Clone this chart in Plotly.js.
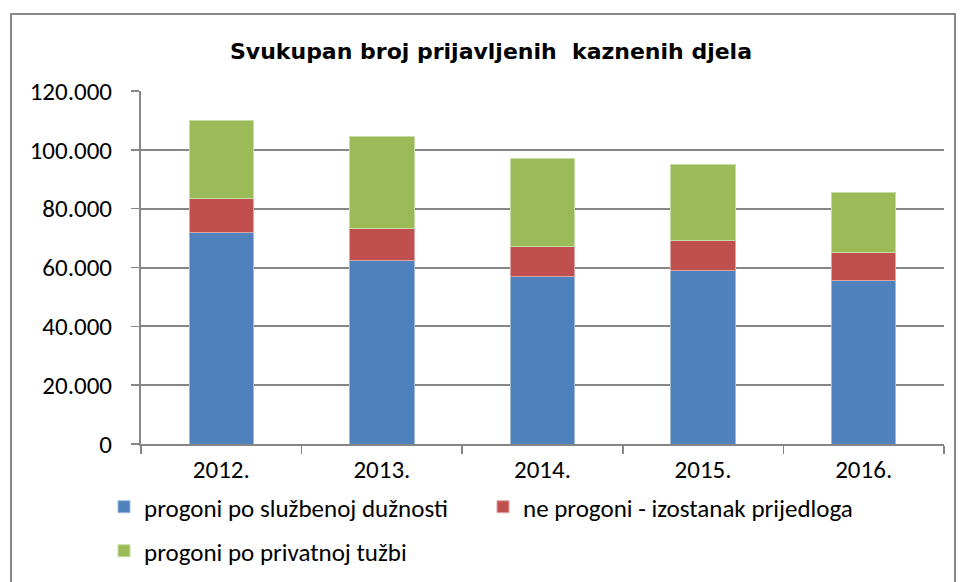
<!DOCTYPE html>
<html>
<head>
<meta charset="utf-8">
<script src="https://cdn.plot.ly/plotly-3.0.1.min.js"></script>
<style>
html,body{margin:0;padding:0;background:#fff;}
#chart{width:961px;height:582px;}
</style>
</head>
<body>
<div id="chart"></div>
<script>
const years = ['2012.', '2013.', '2014.', '2015.', '2016.'];
const sluzbeno = [72000, 62400, 57100, 59100, 55700];
const izostanak = [11500, 10900, 10100, 10200, 9400];
const privatna = [26400, 31200, 29700, 25600, 20300];
const seriesNames = ['progoni po službenoj dužnosti', 'ne progoni - izostanak prijedloga', 'progoni po privatnoj tužbi'];
const yTicks = [0, 20000, 40000, 60000, 80000, 100000, 120000];

const FONT = 'Carlito, Calibri, "Liberation Sans", "Open Sans", sans-serif';
const FS = 25;
const colors = ['#4f81bd', '#c0504d', '#9bbb59'];
const lineCols = ['#9fb9dc', '#dca5a4', '#c8dba6'];

const traces = [sluzbeno, izostanak, privatna].map((vals, i) => ({
  type: 'bar',
  x: years,
  y: vals,
  name: seriesNames[i],
  marker: {color: colors[i], line: {color: lineCols[i], width: 1}},
  legend: i === 2 ? 'legend2' : 'legend',
  hoverinfo: 'x+y+name'
}));

const W = 961, H = 582;
const mL = 141, mR = 17, mT = 91, mB = 138;
const pw = W - mL - mR, ph = H - mT - mB;
const px = v => (v - mL) / pw;
const py = v => (H - mB - v) / ph;

const layout = {
  width: W, height: H,
  margin: {l: mL, r: mR, t: mT, b: mB, pad: 0, autoexpand: false},
  paper_bgcolor: '#ffffff',
  plot_bgcolor: '#ffffff',
  separators: ',.',
  barmode: 'stack',
  bargap: 0.6,
  font: {family: FONT, size: FS, color: '#000'},
  title: {
    text: 'Svukupan broj prijavljenih\u00a0 kaznenih djela',
    font: {family: '"DejaVu Sans", Arial, sans-serif', size: 22, color: '#000', weight: 'bold'},
    x: px(491), xref: 'paper', xanchor: 'center',
    y: 1 - 51 / H, yref: 'container', yanchor: 'middle'
  },
  xaxis: {
    type: 'category',
    showgrid: false,
    showline: true, linecolor: '#868686', linewidth: 2,
    ticks: 'outside', tickson: 'boundaries', ticklen: 8, tickcolor: '#868686', tickwidth: 1.5,
    tickfont: {family: FONT, size: FS, color: '#000'},
    ticklabelstandoff: 2,
    fixedrange: true
  },
  yaxis: {
    range: [0, 120000],
    tickvals: yTicks,
    tickformat: ',d',
    showgrid: true, gridcolor: '#868686', gridwidth: 2,
    showline: true, linecolor: '#868686', linewidth: 2,
    zeroline: false,
    ticks: 'outside', ticklen: 8, tickcolor: '#868686', tickwidth: 1.5,
    tickfont: {family: FONT, size: FS, color: '#000'},
    ticklabelstandoff: 14,
    fixedrange: true
  },
  legend: {
    orientation: 'h',
    x: px(104), xanchor: 'left',
    y: py(507), yanchor: 'middle',
    font: {family: FONT, size: FS, color: '#000'},
    traceorder: 'normal',
    bgcolor: 'rgba(0,0,0,0)',
    itemwidth: 30,
    entrywidth: 334
  },
  legend2: {
    orientation: 'h',
    x: px(104), xanchor: 'left',
    y: py(551), yanchor: 'middle',
    font: {family: FONT, size: FS, color: '#000'},
    traceorder: 'normal',
    bgcolor: 'rgba(0,0,0,0)',
    itemwidth: 30
  },
  shapes: [{
    type: 'rect', xref: 'paper', yref: 'paper',
    x0: px(11), x1: px(955), y0: py(600), y1: py(14),
    line: {color: '#888888', width: 2}, fillcolor: 'rgba(0,0,0,0)', layer: 'below'
  }]
};

Plotly.newPlot('chart', traces, layout, {displayModeBar: false, staticPlot: true});
</script>
</body>
</html>
